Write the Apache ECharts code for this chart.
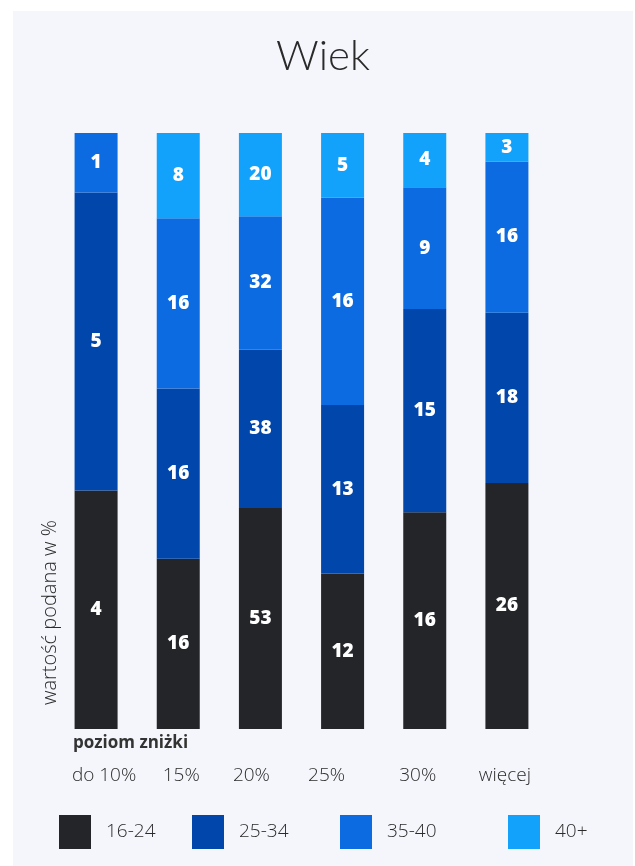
<!DOCTYPE html>
<html>
<head>
<meta charset="utf-8">
<script src="https://cdn.jsdelivr.net/npm/echarts@6/dist/echarts.min.js"></script>
<style>
  html, body { margin: 0; padding: 0; background: #ffffff; }
  #panel { position: absolute; left: 13px; top: 11px; width: 620px; height: 855px; background: #f5f6fb; }
  #chart { position: absolute; left: 0; top: 0; width: 635px; height: 866px; }
</style>
</head>
<body>
<div id="panel"></div>
<div id="chart"></div>
<script>
// Discount levels and respondent counts per age group
const categories = ['do 10%', '15%', '20%', '25%', '30%', 'więcej'];
const ageGroups = ['16-24', '25-34', '35-40', '40+'];
const age16_24 = [4, 16, 53, 12, 16, 26];
const age25_34 = [5, 16, 38, 13, 15, 18];
const age35_40 = [1, 16, 32, 16, 9, 16];
const age40plus = [0, 8, 20, 5, 4, 3];

const rawSeries = [age16_24, age25_34, age35_40, age40plus];
const colors = ['#232529', '#0046ab', '#0d6be1', '#12a2fb'];

// horizontal nudge of each category label (px)
const labelShift = [8, 3, -9, -16, -7, -2];

const totals = categories.map((_, i) => rawSeries.reduce((s, arr) => s + arr[i], 0));

const FONT_TITLE = 'Lato';
const FONT_TEXT = 'Open Sans';

const rich = {};
labelShift.forEach((d, i) => {
  rich['c' + i] = {
    fontFamily: FONT_TEXT, fontWeight: 300, fontSize: 19, color: '#2b2b2b',
    padding: d >= 0 ? [0, 0, 0, 2 * d] : [0, -2 * d, 0, 0]
  };
});

const series = ageGroups.map((name, k) => ({
  name: name,
  type: 'bar',
  stack: 'age',
  barWidth: 43,
  itemStyle: { color: colors[k] },
  label: {
    show: true,
    position: 'inside',
    color: '#ffffff',
    fontFamily: FONT_TEXT,
    fontWeight: 800,
    fontSize: 19,
    formatter: p => {
      const v = rawSeries[k][p.dataIndex];
      return v ? String(v) : '';
    }
  },
  data: rawSeries[k].map((v, i) => v ? v / totals[i] * 100 : null)
}));

const legendLeft = [54, 187, 335, 503];
const legends = ageGroups.map((name, k) => ({
  data: [name],
  left: legendLeft[k],
  top: 810,
  icon: 'rect',
  itemWidth: 32,
  itemHeight: 34,
  selectedMode: false,
  textStyle: { fontFamily: FONT_TEXT, fontWeight: 300, fontSize: 19, color: '#2b2b2b', padding: [0, 0, 0, 10] }
}));

const chart = echarts.init(document.getElementById('chart'));
chart.setOption({
  backgroundColor: 'transparent',
  animation: false,
  title: {
    text: 'Wiek',
    left: 318,
    textAlign: 'center',
    top: 30,
    textStyle: { fontFamily: FONT_TITLE, fontWeight: 300, fontSize: 42, color: '#2a2a2a' }
  },
  legend: legends,
  grid: { left: 55, right: 87, top: 133, bottom: 137 },
  xAxis: {
    type: 'category',
    data: categories,
    name: 'poziom zniżki',
    nameLocation: 'start',
    nameGap: -18,
    nameTextStyle: {
      fontFamily: FONT_TEXT, fontWeight: 'bold', fontSize: 17, color: '#333',
      align: 'left', verticalAlign: 'top', padding: [6, 0, 0, 0]
    },
    axisLine: { show: false },
    axisTick: { show: false },
    axisLabel: {
      interval: 0,
      margin: 37,
      formatter: (v, i) => '{c' + i + '|' + v + '}',
      rich: rich
    }
  },
  yAxis: {
    type: 'value',
    min: 0,
    max: 100,
    offset: 5,
    name: 'wartość podana w %',
    nameLocation: 'start',
    nameRotate: 90,
    nameGap: -24,
    nameTextStyle: {
      fontFamily: FONT_TEXT, fontWeight: 300, fontSize: 20, color: '#2b2b2b',
      align: 'left', verticalAlign: 'middle'
    },
    axisLine: { show: false },
    axisTick: { show: false },
    axisLabel: { show: false },
    splitLine: { show: false }
  },
  series: series
});
</script>
</body>
</html>
